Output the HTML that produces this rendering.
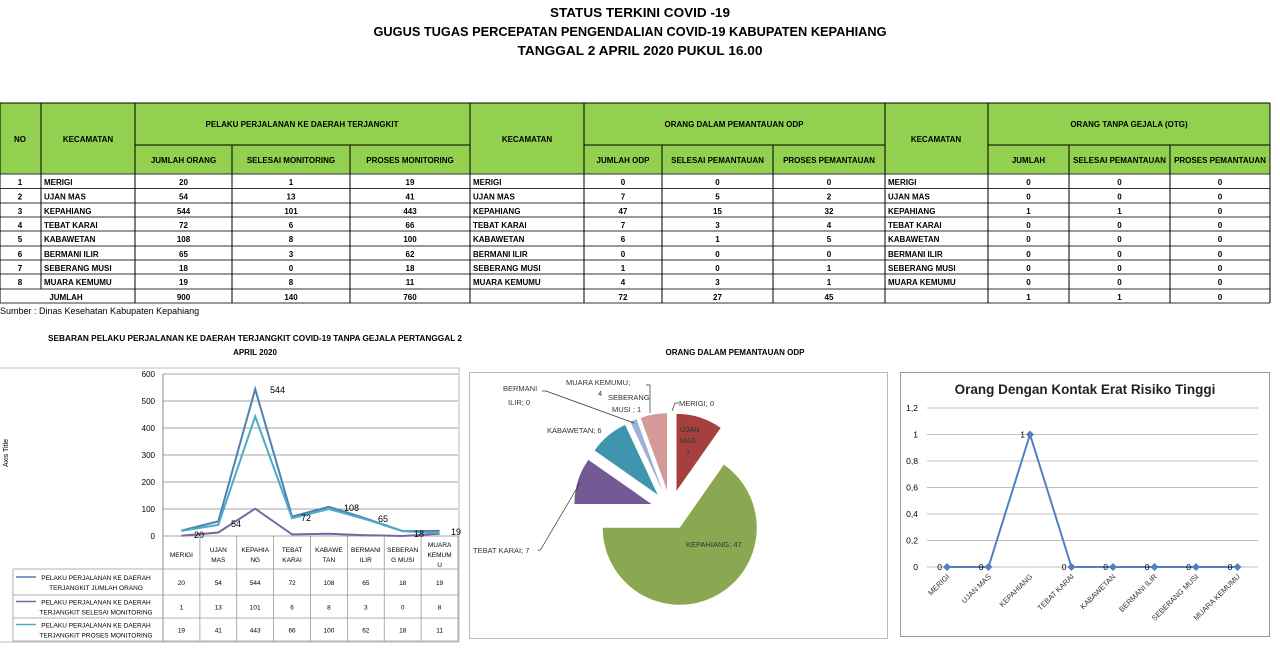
<!DOCTYPE html>
<html><head><meta charset="utf-8">
<style>
html,body{margin:0;padding:0;background:#fff;}
svg{display:block;font-family:"Liberation Sans",sans-serif;}
</style></head>
<body>
<svg id="s" width="1280" height="649" viewBox="0 0 1280 649" xmlns="http://www.w3.org/2000/svg"></svg>
<script>
var S=document.getElementById('s');var h='';
function T(x,y,t,o){o=o||{};h+='<text x="'+x+'" y="'+y+'" font-size="'+(o.fs||8)+'" font-weight="'+(o.b?'bold':'normal')+'" fill="'+(o.c||'#000')+'" text-anchor="'+(o.a||'middle')+'"'+(o.tl?' textLength="'+o.tl+'" lengthAdjust="spacingAndGlyphs"':'')+(o.tr?' transform="'+o.tr+'"':'')+'>'+t+'</text>';}
function L(x1,y1,x2,y2,c,w){h+='<line x1="'+x1+'" y1="'+y1+'" x2="'+x2+'" y2="'+y2+'" stroke="'+(c||'#000')+'" stroke-width="'+(w||1)+'"/>';}
function R(x,y,w,hh,f,s){h+='<rect x="'+x+'" y="'+y+'" width="'+w+'" height="'+hh+'" fill="'+(f||'none')+'" stroke="'+(s||'none')+'"/>';}
T(640,17,'STATUS TERKINI COVID -19',{fs:13,b:1,tl:180});
T(630,36,'GUGUS TUGAS PERCEPATAN PENGENDALIAN COVID-19 KABUPATEN KEPAHIANG',{fs:13,b:1,tl:513});
T(640,55,'TANGGAL 2 APRIL 2020 PUKUL 16.00',{fs:13,b:1,tl:245});
var cx=[0,41,135,232,350,470,584,662,773,885,988,1069,1170,1270];
var G='#92d050';
R(0,103,1270,71,G);
var rows=[174,188.5,203,217,231,246,260,274,289,303];
for(var i=0;i<rows.length;i++)L(0,rows[i],1270,rows[i],'#333',1);
L(0,103,1270,103,'#000',1);L(135,145,470,145);L(584,145,885,145);L(988,145,1270,145);
for(var i=0;i<cx.length;i++){var x=cx[i];var y1=103;
 if([3,4,7,8,11,12].indexOf(i)>=0)y1=145;
 var y2=(i==1)?289:303; if(i==0||i==13)y2=303;
 L(x,y1,x,y2,'#000',1);}
var hb={fs:8,b:1};
T(20,142,'NO',hb);T(88,142,'KECAMATAN',hb);T(302,127,'PELAKU PERJALANAN KE DAERAH TERJANGKIT',hb);
T(527,142,'KECAMATAN',hb);T(734,127,'ORANG DALAM PEMANTAUAN ODP',hb);T(936,142,'KECAMATAN',hb);T(1129,127,'ORANG TANPA GEJALA (OTG)',hb);
var sub=['JUMLAH ORANG','SELESAI MONITORING','PROSES MONITORING',null,'JUMLAH ODP','SELESAI PEMANTAUAN','PROSES PEMANTAUAN',null,'JUMLAH','SELESAI PEMANTAUAN','PROSES PEMANTAUAN'];
for(var i=0;i<sub.length;i++)if(sub[i])T((cx[i+2]+cx[i+3])/2,163,sub[i],hb);
var names=['MERIGI','UJAN MAS','KEPAHIANG','TEBAT KARAI','KABAWETAN','BERMANI ILIR','SEBERANG MUSI','MUARA KEMUMU'];
var d1=[[20,1,19],[54,13,41],[544,101,443],[72,6,66],[108,8,100],[65,3,62],[18,0,18],[19,8,11]];
var d2=[[0,0,0],[7,5,2],[47,15,32],[7,3,4],[6,1,5],[0,0,0],[1,0,1],[4,3,1]];
var d3=[[0,0,0],[0,0,0],[1,1,0],[0,0,0],[0,0,0],[0,0,0],[0,0,0],[0,0,0]];
for(var r=0;r<8;r++){var y=rows[r]+11;
 T(20,y,r+1,hb);T(44,y,names[r],{fs:8,b:1,a:'start'});T(473,y,names[r],{fs:8,b:1,a:'start'});T(888,y,names[r],{fs:8,b:1,a:'start'});
 for(var k=0;k<3;k++){T((cx[2+k]+cx[3+k])/2,y,d1[r][k],hb);T((cx[6+k]+cx[7+k])/2,y,d2[r][k],hb);T((cx[10+k]+cx[11+k])/2,y,d3[r][k],hb);}}
var yj=rows[8]+11;T(66,yj,'JUMLAH',hb);
var tot=[900,140,760,null,72,27,45,null,1,1,0];
for(var i=0;i<tot.length;i++)if(tot[i]!==null)T((cx[i+2]+cx[i+3])/2,yj,tot[i],hb);
T(0,314,'Sumber : Dinas Kesehatan Kabupaten Kepahiang',{fs:9,a:'start'});
T(255,341,'SEBARAN PELAKU PERJALANAN KE DAERAH TERJANGKIT COVID-19 TANPA GEJALA PERTANGGAL 2',{fs:8,b:1,tl:414});
T(255,355,'APRIL  2020',{fs:8,b:1});
L(0,368,459,368,'#bbb');L(459,368,459,642,'#bbb');L(0,642,459,642,'#bbb');
var P0=163,P1=458,Y0=536,sc=162/600;
for(var v=0;v<=600;v+=100){var y=Y0-v*sc;L(P0,y,P1,y,'#888',0.8);T(155,y+3,v,{fs:8,a:'end'});}
L(P0,374,P0,641,'#888');
T(8,453,'Axis Title',{fs:7,tr:'rotate(-90 8 453)'});
var cw=(P1-P0)/8;
function X(i){return P0+cw*(i+0.5);}
var cols=['#4f7fb3','#8064a2','#4bacc6'];
for(var s=0;s<3;s++){var p='';for(var i=0;i<8;i++)p+=(i?'L':'M')+X(i).toFixed(1)+','+(Y0-d1[i][s]*sc).toFixed(1);
 h+='<path d="'+p+'" fill="none" stroke="'+cols[s]+'" stroke-width="2"/>';}
var lab=[[194,538,'20'],[231,527,'54'],[270,393,'544'],[301,521,'72'],[344,511,'108'],[378,522,'65'],[414,537,'18'],[451,535,'19']];
lab.forEach(function(a){T(a[0],a[1],a[2],{fs:9,a:'start'});});
var ty=[536,569,595,618,641];
for(var i=1;i<5;i++)L(13,ty[i],P1,ty[i],'#999',0.8);L(13,569,13,641,'#999',0.8);
for(var i=0;i<=8;i++)L(P0+cw*i,536,P0+cw*i,641,'#999',0.8);
var cl=[['MERIGI'],['UJAN','MAS'],['KEPAHIA','NG'],['TEBAT','KARAI'],['KABAWE','TAN'],['BERMANI','ILIR'],['SEBERAN','G MUSI'],['MUARA','KEMUM','U']];
cl.forEach(function(c,i){var n=c.length;var y0=555-(n-1)*5;c.forEach(function(t,j){T(X(i),y0+j*10+2,t,{fs:6.5});});});
var legs=[['PELAKU PERJALANAN KE DAERAH','TERJANGKIT JUMLAH ORANG'],['PELAKU PERJALANAN KE DAERAH','TERJANGKIT SELESAI MONITORING'],['PELAKU PERJALANAN KE DAERAH','TERJANGKIT PROSES MONITORING']];
for(var s=0;s<3;s++){var ym=(ty[s+1]+ty[s+2])/2;L(16,ym-5,36,ym-5,cols[s],1.5);
 T(96,ym-2,legs[s][0],{fs:6.5});T(96,ym+8,legs[s][1],{fs:6.5});
 for(var i=0;i<8;i++)T(X(i),ym+3,d1[i][s],{fs:6.5});}
T(735,355,'ORANG DALAM PEMANTAUAN ODP',{fs:8,b:1});
R(469.5,372.5,418,266,'none','#bbb');
var C=[670.5,510],rad=77,dd=20;
var pv=[0,7,47,7,6,0,1,4],pc=[null,'#a5403e','#8aa752','#735a94','#3e95ad',null,'#9cb1d7','#d49a99'];
var a=0;for(var i=0;i<8;i++){var sw=pv[i]/72*360;if(sw>0){var mid=(a+sw/2)*Math.PI/180;var ox=C[0]+dd*Math.sin(mid),oy=C[1]-dd*Math.cos(mid);
 var a1=a*Math.PI/180,a2=(a+sw)*Math.PI/180;
 var p='M'+ox+','+oy+'L'+(ox+rad*Math.sin(a1))+','+(oy-rad*Math.cos(a1))+'A'+rad+','+rad+' 0 '+(sw>180?1:0)+' 1 '+(ox+rad*Math.sin(a2))+','+(oy-rad*Math.cos(a2))+'Z';
 h+='<path d="'+p+'" fill="'+pc[i]+'"/>';}a+=sw;}
var pf={fs:7.5,a:'start',c:'#333'};
T(679,406,'MERIGI; 0',pf);L(672,411,675,403,'#333',0.7);L(675,403,679,403,'#333',0.7);
T(680,432,'UJAN',pf);T(680,443,'MAS;',pf);T(686,455,'7',pf);
T(686,547,'KEPAHIANG;  47',pf);
T(473,553,'TEBAT  KARAI; 7',pf);h+='<polyline points="538,551 541,549 580,483" fill="none" stroke="#333" stroke-width="0.7"/>';
T(547,433,'KABAWETAN;  6',pf);
T(503,391,'BERMANI',pf);T(508,405,'ILIR; 0',pf);h+='<polyline points="542,391 546,391 634,423" fill="none" stroke="#333" stroke-width="0.7"/>';
T(566,385,'MUARA  KEMUMU;',pf);T(598,396,'4',pf);h+='<polyline points="646,385 650,385 650,413" fill="none" stroke="#333" stroke-width="0.7"/>';
T(608,400,'SEBERANG',pf);T(612,412,'MUSI  ; 1',pf);
R(900.5,372.5,369,264,'none','#999');
T(1085,394,'Orang Dengan Kontak Erat Risiko  Tinggi',{fs:13.5,b:1,c:'#222'});
var RY0=567,RS=(567-408)/1.2;
['0','0,2','0,4','0,6','0,8','1','1,2'].forEach(function(t,i){var y=RY0-i*0.2*RS;L(927,y,1258,y,'#aaa',0.8);T(918,y+3,t,{fs:8.5,a:'end'});});
var rv=[0,0,1,0,0,0,0,0];var rp='';
for(var i=0;i<8;i++){var x=947+i*41.5,y=RY0-rv[i]*RS;rp+=(i?'L':'M')+x+','+y;}
h+='<path d="'+rp+'" fill="none" stroke="#4f81bd" stroke-width="2"/>';
for(var i=0;i<8;i++){var x=947+i*41.5,y=RY0-rv[i]*RS;h+='<path d="M'+x+','+(y-4)+'L'+(x+4)+','+y+'L'+x+','+(y+4)+'L'+(x-4)+','+y+'Z" fill="#4f81bd"/>';
 T(x-5,y+3,rv[i],{fs:8.5,a:'end'});
 T(x+3,RY0+10,names[i],{fs:7.5,a:'end',c:'#333',tr:'rotate(-45 '+(x+3)+' '+(RY0+10)+')'});}
S.innerHTML=h;
</script>
</body></html>
